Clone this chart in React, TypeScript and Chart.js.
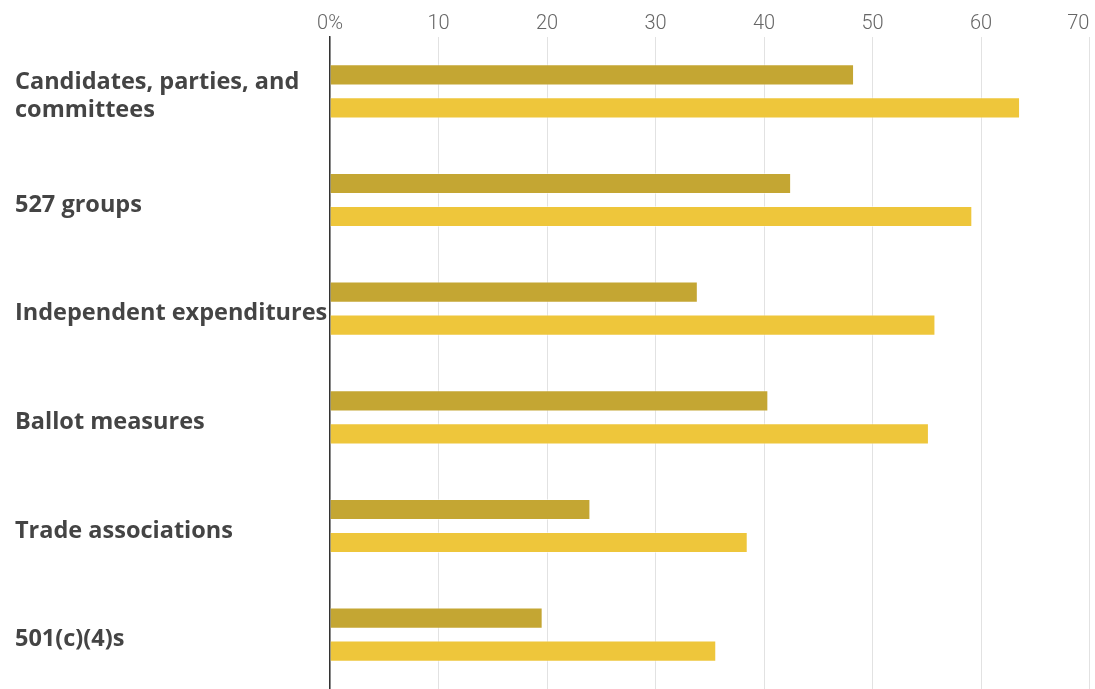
import React, { useEffect, useRef } from "react";
import { Chart, registerables } from "chart.js";

Chart.register(...registerables);

const categories: (string | string[])[] = [
  ["Candidates, parties, and", "committees"],
  "527 groups",
  "Independent expenditures",
  "Ballot measures",
  "Trade associations",
  "501(c)(4)s",
];
const seriesA = [48.3, 42.5, 33.9, 40.4, 24.0, 19.6];
const seriesB = [63.6, 59.2, 55.8, 55.2, 38.5, 35.6];
const xTicks = [0, 10, 20, 30, 40, 50, 60, 70];

const LABEL_FONT = "bold 23.5px 'Open Sans'";
const LABEL_LINE = 28;

const categoryLabels = {
  id: "categoryLabels",
  afterDraw(chart: any) {
    const ctx = chart.ctx;
    const y = chart.scales.y;
    ctx.save();
    ctx.font = LABEL_FONT;
    ctx.fillStyle = "#444";
    ctx.textAlign = "left";
    ctx.textBaseline = "middle";
    categories.forEach((lab, i) => {
      const lines = Array.isArray(lab) ? lab : [lab];
      const cy = y.getPixelForValue(i) + 5;
      const start = cy - ((lines.length - 1) * LABEL_LINE) / 2;
      lines.forEach((t, j) => ctx.fillText(t, 15, start + j * LABEL_LINE));
    });
    ctx.restore();
  },
};

export default function App() {
  const ref = useRef<HTMLCanvasElement | null>(null);
  useEffect(() => {
    if (!ref.current) return;
    const chart = new Chart(ref.current, {
      type: "bar",
      data: {
        labels: categories,
        datasets: [
          {
            label: "A",
            data: seriesA,
            backgroundColor: "#c4a633",
            borderColor: "rgba(255,255,255,0.45)",
            borderWidth: 1,
            categoryPercentage: 0.608,
            barPercentage: 0.64,
          },
          {
            label: "B",
            data: seriesB,
            backgroundColor: "#eec63b",
            borderColor: "rgba(255,255,255,0.45)",
            borderWidth: 1,
            categoryPercentage: 0.608,
            barPercentage: 0.64,
          },
        ],
      },
      options: {
        indexAxis: "y",
        animation: false,
        responsive: false,
        maintainAspectRatio: false,
        layout: { padding: { left: 15, right: 5.5, top: 0, bottom: 0 } },
        plugins: { legend: { display: false }, tooltip: { enabled: false } },
        scales: {
          x: {
            position: "top",
            min: 0,
            max: 70,
            afterBuildTicks: (scale: any) => {
              scale.ticks = xTicks.map((v) => ({ value: v }));
            },
            afterFit: (scale: any) => {
              scale.height = 37;
              scale.paddingLeft = 0;
              scale.paddingRight = 0;
            },
            grid: { color: "#e2e2e2", lineWidth: 1, drawTicks: false },
            border: { display: false },
            ticks: {
              padding: 1,
              color: "#666",
              font: { family: "Roboto", size: 20, weight: 300 },
              callback: (v: any) =>
                v === 0 ? "0%" : v === xTicks[xTicks.length - 1] ? String(v) + "\u2007\u2007" : String(v),
            },
          },
          y: {
            afterFit: (scale: any) => {
              scale.width = 315;
              scale.paddingTop = 0;
              scale.paddingBottom = 0;
            },
            grid: { display: false, drawTicks: false },
            border: { display: true, color: "#333", width: 1.5 },
            ticks: { display: false },
          },
        },
      },
      plugins: [categoryLabels],
    } as any);
    return () => chart.destroy();
  }, []);
  return (
    <div style={{ position: "fixed", left: 0, top: 0, width: 1095, height: 689, background: "#fff" }}>
      <canvas ref={ref} width={1095} height={689} style={{ display: "block" }} />
    </div>
  );
}
